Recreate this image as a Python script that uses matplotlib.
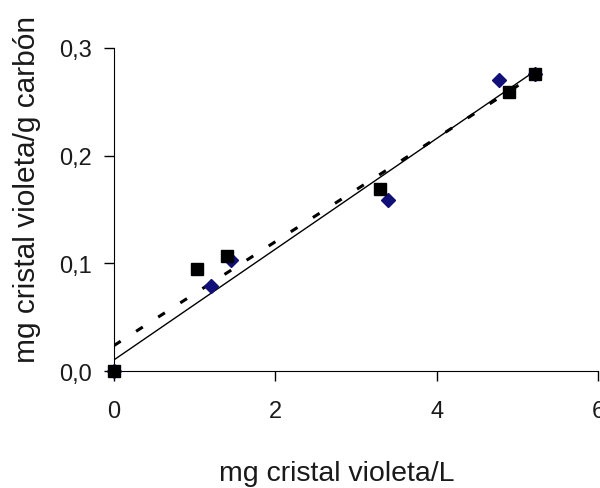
import numpy as np
import matplotlib
matplotlib.use("Agg")
import matplotlib.pyplot as plt

plt.rcParams['font.family'] = ['Liberation Sans', 'DejaVu Sans']

# serie 1 (cuadrados)
x_sq = [0.0, 1.03, 1.40, 3.30, 4.89, 5.22]
y_sq = [0.0, 0.095, 0.107, 0.169, 0.259, 0.276]

# serie 2 (rombos)
x_di = [0.0, 1.20, 1.45, 3.40, 4.77, 5.22]
y_di = [0.0, 0.079, 0.103, 0.159, 0.270, 0.276]

xticks = [0, 2, 4, 6]
xtick_labels = ["0", "2", "4", "6"]
yticks = [0.0, 0.1, 0.2, 0.3]
ytick_labels = ["0,0", "0,1", "0,2", "0,3"]

txt = '#1a1a1a'

fig = plt.figure(figsize=(6, 4.89), dpi=100)
ax = fig.add_axes([0.19, 0.239, 0.807, 0.661])

# lineas de tendencia (ajuste lineal de cada serie)
xs = np.array([min(x_sq), max(x_sq)])
m1, b1 = np.polyfit(x_sq, y_sq, 1)
ax.plot(xs, m1 * xs + b1, color='black', lw=2.2, dashes=(2.6, 6.0), zorder=2)
xd = np.array([min(x_di), max(x_di)])
m2, b2 = np.polyfit(x_di, y_di, 1)
ax.plot(xd, m2 * xd + b2, color='black', lw=1, zorder=2)

ax.plot(x_di, y_di, 'D', color='#101078', ms=7.5, ls='none', zorder=3, clip_on=False)
ax.plot(x_sq, y_sq, 's', color='black', ms=8.8, ls='none', zorder=4, clip_on=False)

ax.set_xlim(0, 6)
ax.set_ylim(0, 0.3)
ax.set_xticks(xticks)
ax.set_xticklabels(xtick_labels)
ax.set_yticks(yticks)
ax.set_yticklabels(ytick_labels)
for s in ['top', 'right']:
    ax.spines[s].set_visible(False)
ax.tick_params(direction='out', length=7, width=1, labelsize=17, colors=txt)
ax.tick_params(axis='x', pad=14)
ax.tick_params(axis='y', pad=9)
ax.tick_params(colors='black', which='both', labelcolor=txt)
ax.set_xlabel("mg cristal violeta/L", fontsize=20.5, color=txt)
ax.set_ylabel("mg cristal violeta/g carbón", fontsize=21.5, color=txt)
ax.xaxis.set_label_coords(0.46, -0.275)
ax.yaxis.set_label_coords(-0.15, 0.565)

fig.savefig("out.png", dpi=100)
